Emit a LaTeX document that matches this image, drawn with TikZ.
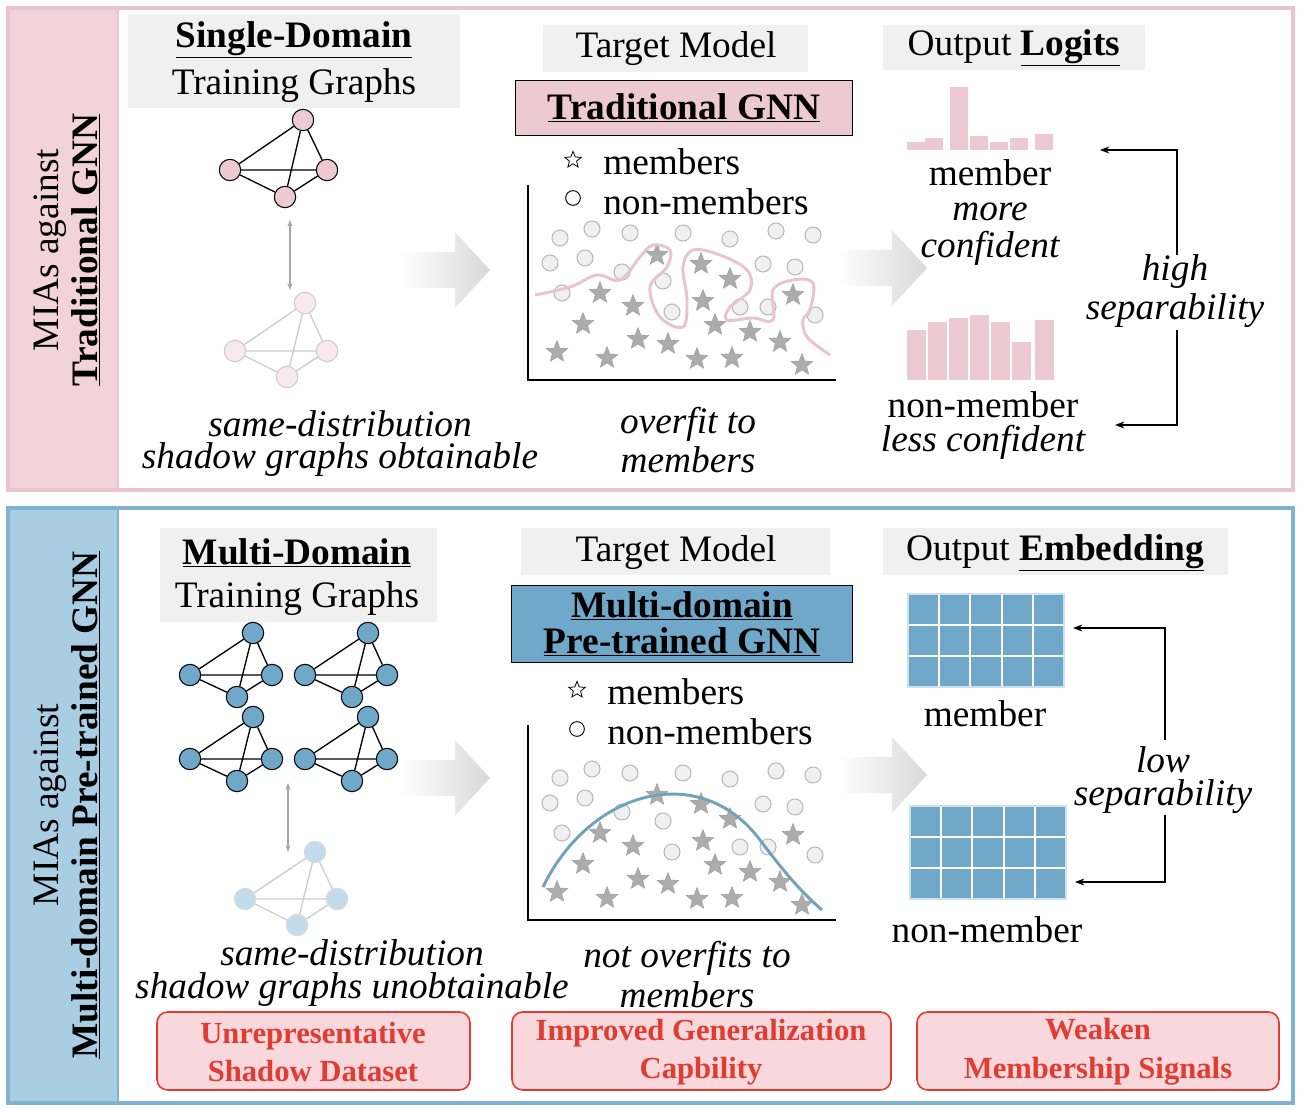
\documentclass[tikz,border=0pt]{standalone}
\usepackage{fontspec}
\setmainfont{Liberation Serif}
\usetikzlibrary{shapes.geometric,arrows.meta}
\definecolor{pinkf}{HTML}{F2D3DC}
\definecolor{pinkb}{HTML}{E9C3CE}
\definecolor{pinkn}{HTML}{EDC9D4}
\definecolor{bluef}{HTML}{A9CDE2}
\definecolor{blueb}{HTML}{7FB3D0}
\definecolor{bluen}{HTML}{6FA8C9}
\definecolor{boxg}{HTML}{F0F0F0}
\definecolor{redt}{HTML}{E03C32}
\definecolor{redf}{HTML}{F8D8DC}
\begin{document}
\begin{tikzpicture}[x=0.75pt,y=-0.75pt,
 txt/.style={font=\fontsize{28}{32}\selectfont,inner sep=0pt,align=center},
 itx/.style={txt,font=\fontsize{28}{32}\selectfont\itshape},
 gbox/.style={fill=boxg,draw=none},
 st/.style={star,star points=5,star point ratio=2.3,minimum size=17pt,inner sep=0pt,fill=gray!65,draw=gray!75},
 ci/.style={circle,minimum size=12pt,inner sep=0pt,fill=gray!12,draw=gray!55,line width=0.8pt},
 gn/.style={circle,minimum size=16pt,inner sep=0pt,draw=black,line width=0.8pt},
 ge/.style={line width=1pt},
 redbox/.style={draw=redt,fill=redf,rounded corners=8pt,line width=1.2pt},
 redtx/.style={font=\fontsize{23}{29}\selectfont\bfseries,text=redt,align=center,inner sep=0pt},
 brk/.style={line width=1pt,-{Stealth[length=7pt]}},
 bigarr/.style={left color=white,right color=gray!30,draw=none}]
\useasboundingbox (0,0) rectangle (1304,1112);
% frames
\fill[pinkf] (8,8) rectangle (118,490);
\draw[pinkb,line width=2.5pt] (8,8) rectangle (1293,490);
\draw[pinkb,line width=1.5pt] (118,8) -- (118,490);
\fill[bluef] (8,508) rectangle (118,1103);
\draw[blueb,line width=2.5pt] (8,508) rectangle (1293,1103);
\draw[blueb,line width=1.5pt] (118,508) -- (118,1103);
\node[txt,rotate=90,anchor=center] (ltop1) at (50,250) {MIAs against};
\node[txt,rotate=90,font=\fontsize{28}{32}\selectfont\bfseries] (ltop2) at (86,250) {\underline{Traditional GNN}};
\node[txt,rotate=90] (lbot1) at (50,805) {MIAs against};
\node[txt,rotate=90,font=\fontsize{28}{32}\selectfont\bfseries] (lbot2) at (86,805) {\underline{Multi-domain Pre-trained GNN}};
% ===== TOP =====
\fill[gbox] (128,15) rectangle (460,108);
\node[txt,font=\fontsize{28}{32}\selectfont\bfseries] (sd) at (294,40) {\underline{Single-Domain}};
\node[txt] (tg) at (294,86) {Training Graphs};
\fill[gbox] (543,25) rectangle (808,72);
\node[txt] (tm) at (676,49) {Target Model};
\fill[gbox] (883,25) rectangle (1145,70);
\node[txt] (ol) at (1014,48) {Output \textbf{\underline{Logits}}};
\node[draw=black,fill=pinkn,line width=1pt,minimum width=253pt,minimum height=41pt,font=\fontsize{28}{32}\selectfont\bfseries,inner sep=0pt] (tgnn) at (684,108) {\underline{Traditional GNN}};
% graph top
\begin{scope}[every node/.style={gn,fill=pinkn}]
\node (a1) at (303,120) {}; \node (a2) at (230,170) {}; \node (a3) at (327,170) {}; \node (a4) at (285,197) {};
\end{scope}
\draw[ge] (a1)--(a2) (a1)--(a3) (a1)--(a4) (a2)--(a3) (a2)--(a4) (a3)--(a4);
\begin{scope}[every node/.style={gn,fill=pinkn!40,draw=gray!40}]
\node (b1) at (305,303) {}; \node (b2) at (235,351) {}; \node (b3) at (327,351) {}; \node (b4) at (287,377) {};
\end{scope}
\draw[ge,gray!40] (b1)--(b2) (b1)--(b3) (b1)--(b4) (b2)--(b3) (b2)--(b4) (b3)--(b4);
\draw[gray!70,line width=1pt,{Stealth[length=5pt]}-{Stealth[length=5pt]}] (290,220) -- (290,290);
\node[itx] (sdt1) at (340,424) {same-distribution};
\node[itx] (sdt2) at (340,460) {shadow graphs obtainable};
% big arrows
\shade[bigarr] (400,252) -- (455,252) -- (455,232) -- (490,270) -- (455,308) -- (455,288) -- (400,288) -- cycle;
\shade[bigarr] (837,250) -- (892,250) -- (892,230) -- (927,268) -- (892,306) -- (892,286) -- (837,286) -- cycle;
% legend
\node[star,star points=5,star point ratio=2.3,minimum size=13pt,inner sep=0pt,draw=black,line width=0.6pt] (ls1) at (573,160) {};
\node[txt,anchor=west] (lm1) at (603,162) {members};
\node[circle,minimum size=11pt,inner sep=0pt,draw=black,line width=0.7pt] (lc1) at (573,198) {};
\node[txt,anchor=west] (ln1) at (603,202) {non-members};
% scatter
\foreach \dy/\nm in {0/t,540/b}{
\draw[line width=1pt] (528,185+\dy) -- (528,380+\dy) -- (836,380+\dy);
\foreach \x/\y [count=\i] in {560/238,592/229,630/233,683/233,730/239,776/231,813/235,550/263,585/258,622/272,763/264,795/267,562/293,663/281,672/312,740/307,768/307,815/315}
  \node[ci] (c\nm\i) at (\x,\y+\dy) {};
\foreach \x/\y [count=\i] in {657/255,701/264,730/279,600/293,633/306,703/301,793/295,583/324,715/325,750/332,638/339,668/344,780/342,557/352,607/358,697/359,732/358,802/365}
  \node[st] (s\nm\i) at (\x,\y+\dy) {};
}
\draw[pinkb,line width=2.2pt] plot[smooth,tension=0.6] coordinates {(535,295) (570,287) (597,275) (620,280) (640,257) (653,245) (670,250) (667,267) (650,287) (660,317) (683,327) (687,300) (683,267) (693,250) (720,255) (747,270) (750,290) (730,307) (727,320) (753,318) (773,320) (773,290) (793,280) (813,283) (810,310) (803,320) (807,337) (830,355)};
\node[itx] (ov1) at (688,424) {overfit to};
\node[itx] (ov2) at (688,460) {members};
% histograms
\foreach \x/\h in {907/8,925/12,950/63,970/14,990/8,1010/12,1035/16}
  \fill[pinkn] (\x,150) rectangle ++(18,-\h);
\foreach \x/\h in {907/50,928/58,949/62,970/65,991/58,1012/38,1035/60}
  \fill[pinkn] (\x,380) rectangle ++(19,-\h);
\node[txt] (m1) at (990,173) {member};
\node[itx] (m2) at (990,212) {more};
\node[itx] (m3) at (990,248) {confident};
\node[txt] (n1) at (983,405) {non-member};
\node[itx] (n2) at (983,442) {less confident};
\node[itx] (hs1) at (1175,272) {high};
\node[itx] (hs2) at (1175,311) {separability};
\coordinate (ht) at (1100,150); \coordinate (hb) at (1115,425);
\draw[brk] (1177,255) -- (1177,150) -- (ht);
\draw[brk] (1177,330) -- (1177,425) -- (hb);
% ===== BOTTOM =====
\fill[gbox] (160,528) rectangle (437,622);
\node[txt,font=\fontsize{28}{32}\selectfont\bfseries] (md) at (297,553) {\underline{Multi-Domain}};
\node[txt] (tg2) at (297,599) {Training Graphs};
\fill[gbox] (521,528) rectangle (830,575);
\node[txt] (tm2) at (676,553) {Target Model};
\fill[gbox] (883,528) rectangle (1228,575);
\node[txt] (oe) at (1055,553) {Output \textbf{\underline{Embedding}}};
\node[draw=black,fill=bluen,line width=1pt,minimum width=256pt,minimum height=58pt,font=\fontsize{28}{27}\selectfont\bfseries,inner sep=0pt,align=center] (pgnn) at (682,624) {\underline{Multi-domain}\\\underline{Pre-trained GNN}};
\foreach \ox/\oy [count=\k] in {0/0,115/0,0/84,115/84}{
 \begin{scope}[every node/.style={gn,fill=bluen}]
 \node (g\k a) at (253+\ox,633+\oy) {}; \node (g\k b) at (190+\ox,675+\oy) {}; \node (g\k c) at (272+\ox,675+\oy) {}; \node (g\k d) at (237+\ox,697+\oy) {};
 \end{scope}
 \draw[ge] (g\k a)--(g\k b) (g\k a)--(g\k c) (g\k a)--(g\k d) (g\k b)--(g\k c) (g\k b)--(g\k d) (g\k c)--(g\k d);
}
\begin{scope}[every node/.style={gn,fill=bluef!70,draw=gray!30}]
\node (h1) at (315,852) {}; \node (h2) at (245,899) {}; \node (h3) at (337,899) {}; \node (h4) at (297,925) {};
\end{scope}
\draw[ge,gray!40] (h1)--(h2) (h1)--(h3) (h1)--(h4) (h2)--(h3) (h2)--(h4) (h3)--(h4);
\draw[gray!70,line width=1pt,{Stealth[length=5pt]}-{Stealth[length=5pt]}] (288,783) -- (288,852);
\node[itx] (sdb1) at (352,953) {same-distribution};
\node[itx] (sdb2) at (352,990) {shadow graphs unobtainable};
\shade[bigarr] (400,760) -- (455,760) -- (455,740) -- (490,778) -- (455,816) -- (455,796) -- (400,796) -- cycle;
\shade[bigarr] (837,757) -- (892,757) -- (892,737) -- (927,775) -- (892,813) -- (892,793) -- (837,793) -- cycle;
\node[star,star points=5,star point ratio=2.3,minimum size=13pt,inner sep=0pt,draw=black,line width=0.6pt] (ls2) at (577,690) {};
\node[txt,anchor=west] (lm2) at (607,692) {members};
\node[circle,minimum size=11pt,inner sep=0pt,draw=black,line width=0.7pt] (lc2) at (577,729) {};
\node[txt,anchor=west] (ln2) at (607,732) {non-members};
\draw[blueb!90!black,line width=2.2pt] (543,887) .. controls (590,790) and (700,760) .. (760,840) .. controls (790,880) and (805,895) .. (822,910);
\node[itx] (nov1) at (687,958) {not overfits to};
\node[itx] (nov2) at (687,995) {members};
% grids
\foreach \gx/\gy in {908/594,910/806}{
 \fill[bluen] (\gx,\gy) rectangle ++(156,93);
 \foreach \i in {1,...,4} \draw[white,line width=1.5pt] (\gx+\i*31.2,\gy) -- ++(0,93);
 \foreach \j in {1,2} \draw[white,line width=1.5pt] (\gx,\gy+\j*31) -- ++(156,0);
 \draw[bluef!60,line width=1pt] (\gx,\gy) rectangle ++(156,93);
}
\node[txt] (mb) at (985,714) {member};
\node[txt] (nmb) at (987,930) {non-member};
\node[itx] (ls1t) at (1163,760) {low};
\node[itx] (ls2t) at (1163,797) {separability};
\coordinate (lt) at (1073,628); \coordinate (lb) at (1075,882);
\draw[brk] (1165,740) -- (1165,628) -- (lt);
\draw[brk] (1165,815) -- (1165,882) -- (lb);
% red boxes
\draw[redbox] (157,1012) rectangle (470,1090);
\node[redtx] (r1) at (313,1052) {Unrepresentative\\Shadow Dataset};
\draw[redbox] (512,1012) rectangle (891,1090);
\node[redtx] (r2) at (701,1052) {Improved Generalization\\Capbility};
\draw[redbox] (917,1012) rectangle (1279,1090);
\node[redtx] (r3) at (1098,1052) {Weaken\\Membership Signals};
\end{tikzpicture}
\end{document}
